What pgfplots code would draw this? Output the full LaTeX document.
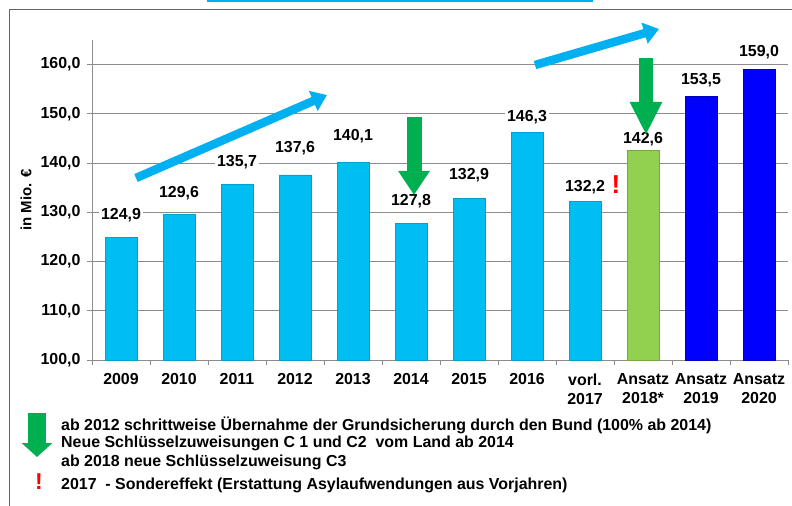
\documentclass[border=0pt]{standalone}
\usepackage{pgfplots}
\pgfplotsset{compat=1.18}
\usepackage{fontspec}
\setmainfont{Liberation Sans}
\usetikzlibrary{arrows.meta}

\definecolor{barcyan}{RGB}{0,190,242}
\definecolor{bargreen}{RGB}{146,208,80}
\definecolor{barblue}{RGB}{0,0,255}
\definecolor{arrowcyan}{RGB}{0,176,240}
\definecolor{arrowgreen}{RGB}{0,176,80}
\definecolor{gridgray}{RGB}{140,140,140}
\definecolor{framegray}{RGB}{100,100,100}

\begin{document}
\begin{tikzpicture}
\useasboundingbox (0,0) rectangle (792bp,-506bp);
\begin{axis}[
  at={(92bp,-360bp)}, anchor=south west,
  scale only axis, width=696bp, height=320bp,
  xmin=-0.5, xmax=11.5, ymin=100, ymax=165,
  axis x line*=bottom, axis y line*=left,
  axis line style={gridgray, line width=0.9bp, -},
  xtick={-0.5,0.5,...,11.5},
  x tick label as interval,
  xticklabels={2009,2010,2011,2012,2013,2014,2015,2016,{vorl.\\2017},{Ansatz\\2018*},{Ansatz\\2019},{Ansatz\\2020}},
  xticklabel style={align=center, yshift=-5bp, font=\fontsize{16}{19}\selectfont\bfseries},
  ytick={100,110,...,160},
  yticklabel style={xshift=-3bp, font=\fontsize{16}{19}\selectfont\bfseries,
    /pgf/number format/fixed, /pgf/number format/fixed zerofill,
    /pgf/number format/precision=1, /pgf/number format/use comma},
  /pgf/number format/assume math mode=true,
  tick align=outside, major tick length=5bp,
  tick style={gridgray, line width=0.9bp},
  ymajorgrids, grid style={gridgray, line width=0.9bp},
]
\addplot[ybar, bar width=32bp, bar shift=0pt, fill=barcyan, draw=barcyan!85!black]
  coordinates {(0,124.9) (1,129.6) (2,135.7) (3,137.6) (4,140.1) (5,127.8) (6,132.9) (7,146.3) (8,132.2)};
\addplot[ybar, bar width=32bp, bar shift=0pt, fill=bargreen, draw=bargreen!80!black]
  coordinates {(9,142.6)};
\addplot[ybar, bar width=32bp, bar shift=0pt, fill=barblue, draw=barblue!75!black]
  coordinates {(10,153.5) (11,159.0)};
% value labels
\addplot[draw=none, nodes near coords, point meta=explicit symbolic,
  nodes near coords align=center,
  every node near coord/.append style={anchor=center, fill=white, inner sep=2bp,
    font=\fontsize{16}{19}\selectfont\bfseries, text=black}]
  coordinates {(0,129.45)[124,9] (1,133.92)[129,6] (2,140.22)[135,7] (3,143.06)[137,6]
    (4,145.5)[140,1] (5,132.3)[127,8] (6,137.6)[132,9] (7,149.36)[146,3]
    (8,135.14)[132,2] (9,144.8)[142,6] (10,156.9)[153,5] (11,162.56)[159,0]};
\end{axis}
\begin{scope}[x=1bp, y=-1bp]
  \fill[arrowcyan] (207,0) rectangle (593,2.5);
  \draw[framegray, line width=1.3bp] (9.3,506) -- (9.3,9.3) -- (792,9.3);
  \node[rotate=90, font=\fontsize{15}{18}\selectfont\bfseries] at (26,200) {in Mio. €};
  % trend arrows
  \draw[arrowcyan, line width=8.5bp, -{Triangle[width=21bp,length=15bp]}] (136,178) -- (327,95);
  \draw[arrowcyan, line width=8.5bp, -{Triangle[width=21bp,length=15bp]}] (535,65) -- (659,29);
  \draw[arrowgreen, line width=15bp, -{Triangle[width=30bp,length=24bp]}] (414,117) -- (414,195);
  \draw[arrowgreen, line width=14bp, -{Triangle[width=30bp,length=33bp]}] (646,58) -- (646,135);
  \node[text=red, font=\fontsize{26}{26}\selectfont\bfseries] at (616,185) {!};
  % notes
  \draw[arrowgreen, line width=17bp, -{Triangle[width=30bp,length=14bp]}] (37,413) -- (37,457);
  \node[text=red, font=\fontsize{23}{23}\selectfont\bfseries] at (39,482) {!};
  \begin{scope}[every node/.style={anchor=base west, inner sep=0pt, font=\fontsize{16}{19}\selectfont\bfseries}]
    \node at (61,430) {ab 2012 schrittweise Übernahme der Grundsicherung durch den Bund (100\% ab 2014)};
    \node at (61,447) {Neue Schlüsselzuweisungen C 1 und C2\ \ vom Land ab 2014};
    \node at (61,466) {ab 2018 neue Schlüsselzuweisung C3};
    \node at (61,489) {2017\ \ - Sondereffekt (Erstattung Asylaufwendungen aus Vorjahren)};
  \end{scope}
\end{scope}
\end{tikzpicture}
\end{document}
